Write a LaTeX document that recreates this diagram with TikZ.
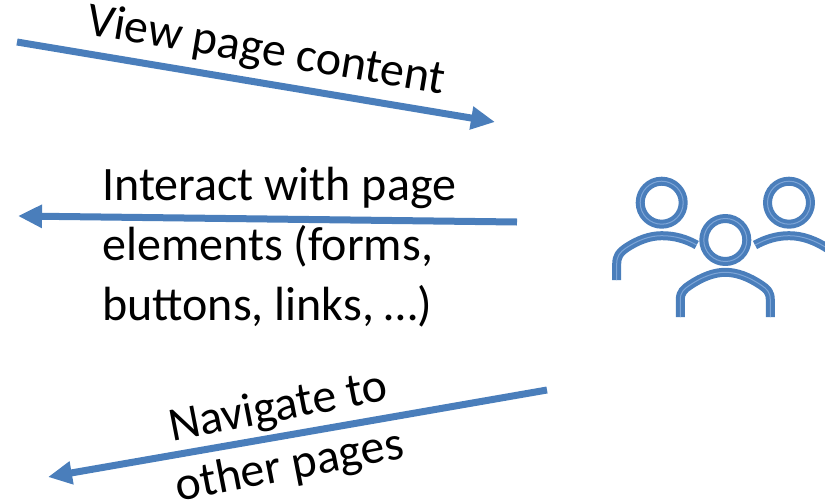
\documentclass[tikz,border=0pt]{standalone}
\usepackage{fontspec}
\setmainfont{Carlito}
\usetikzlibrary{arrows.meta}
\definecolor{blu}{RGB}{74,126,187}
\definecolor{blulight}{RGB}{125,165,215}
\tikzset{
 x=1pt,y=-1pt,
 flow/.style={line width=7pt,blu,-{Triangle[length=24pt,width=22pt]}},
 lbl/.style={font=\fontsize{48pt}{60pt}\selectfont,text=black,inner sep=0pt,align=left},
 person/.style={line width=9pt,blu,line join=round},
 personin/.style={line width=1pt,blulight,line join=round}
}
\begin{document}
\begin{tikzpicture}
\useasboundingbox (0,0) rectangle (825,501);
\coordinate (a1) at (17,42); \coordinate (a2) at (495,122);
\coordinate (b1) at (517,222); \coordinate (b2) at (18,216);
\coordinate (c1) at (547,390); \coordinate (c2) at (48,477);
\draw[flow] (a1) -- (a2);
\draw[flow] (b1) -- (b2);
\draw[flow] (c1) -- (c2);
\node[lbl,rotate=-9.5] (t1) at (266,52) {View page content};
\node[lbl,anchor=west] (t2) at (102,247) {Interact with page\\elements (forms,\\buttons, links, \dots)};
\node[lbl,rotate=11,align=center] (t3) at (284,438) {Navigate to\\other pages};
\clip (0,0) rectangle (825,501);
\foreach \s in {person,personin}{
 \draw[\s] (661.7,202.7) circle (21.5);
 \draw[\s] (789,202.7) circle (21.5);
 \draw[\s] (616.7,280) -- (616.7,264) .. controls (616.7,256) and (620,252) .. (626,248) .. controls (638,240) and (650,235.7) .. (661.7,235.7) .. controls (675,235.7) and (686,239) .. (696.7,245);
 \draw[\s] (755,245) .. controls (766,239) and (777,235.7) .. (789,235.7) .. controls (802,235.7) and (815,240) .. (830,250);
 \draw[\s] (725.3,240) circle (21.5);
 \draw[\s] (680.3,317) -- (680.3,300) .. controls (680.3,292) and (684,289) .. (690,285) .. controls (702,277) and (714,272.3) .. (725.3,272.3) .. controls (737,272.3) and (749,277) .. (761,285) .. controls (767,289) and (770.3,292) .. (770.3,300) -- (770.3,317);
}
\end{tikzpicture}
\end{document}
